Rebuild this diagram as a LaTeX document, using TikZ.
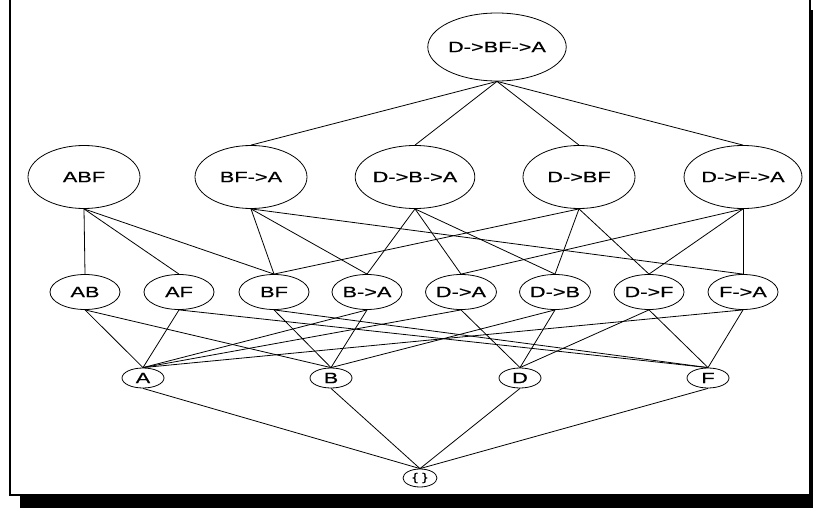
\documentclass[tikz,border=0pt]{standalone}
\usepackage{fontspec}
\newfontfamily\latfont[FakeStretch=1.45,FakeBold=0.6]{Liberation Sans}
\usetikzlibrary{shapes.geometric}

\begin{document}
\begin{tikzpicture}[
    x=1pt, y=-1pt,
    set/.style={
        ellipse, draw, line width=0.8pt, inner sep=0pt,
        font=\latfont\fontsize{15}{17}\selectfont
    },
    big/.style={set, minimum width=138pt, minimum height=68pt},
    mid/.style={set, minimum width=112pt, minimum height=63pt},
    small/.style={set, minimum width=70pt, minimum height=35pt},
    atom/.style={set, minimum width=42pt, minimum height=20pt},
    empty/.style={set, minimum width=34pt, minimum height=18pt},
    link/.style={line width=0.8pt}
]
    \useasboundingbox (0,0) rectangle (813,508);

    % Frame with shadow
    \fill[black] (20,10) rectangle (825,520);
    \draw[fill=white, line width=1.6pt] (10,-5) rectangle (810,495);

    % Top
    \node[big] (dbfa) at (497,47) {D->BF->A};

    % Second row
    \node[mid] (abf) at (84,177) {ABF};
    \node[mid] (bfa) at (251,177) {BF->A};
    \node[mid] (dba) at (415,177) {D->B->A};
    \node[mid] (dbf) at (579,177) {D->BF};
    \node[mid] (dfa) at (743,177) {D->F->A};

    % Third row
    \node[small] (ab) at (85,292) {AB};
    \node[small] (af) at (179,292) {AF};
    \node[small] (bf) at (274,292) {BF};
    \node[small] (ba) at (367,292) {B->A};
    \node[small] (da) at (461,292) {D->A};
    \node[small] (db) at (555,292) {D->B};
    \node[small] (df) at (649,292) {D->F};
    \node[small] (fa) at (743,292) {F->A};

    % Fourth row
    \node[atom] (a) at (143,378) {A};
    \node[atom] (b) at (331,378) {B};
    \node[atom] (d) at (520,378) {D};
    \node[atom] (f) at (708,378) {F};

    % Bottom
    \node[empty, font=\latfont\fontsize{11}{13}\selectfont] (none) at (420,478) {\{ \}};

    % Top to second row
    \draw[link] (dbfa.south) -- (bfa.north);
    \draw[link] (dbfa.south) -- (dba.north);
    \draw[link] (dbfa.south) -- (dbf.north);
    \draw[link] (dbfa.south) -- (dfa.north);

    % Second to third row
    \draw[link] (abf.south) -- (ab.north);
    \draw[link] (abf.south) -- (af.north);
    \draw[link] (abf.south) -- (bf.north);
    \draw[link] (bfa.south) -- (bf.north);
    \draw[link] (bfa.south) -- (ba.north);
    \draw[link] (bfa.south) -- (fa.north);
    \draw[link] (dba.south) -- (ba.north);
    \draw[link] (dba.south) -- (da.north);
    \draw[link] (dba.south) -- (db.north);
    \draw[link] (dbf.south) -- (bf.north);
    \draw[link] (dbf.south) -- (db.north);
    \draw[link] (dbf.south) -- (df.north);
    \draw[link] (dfa.south) -- (da.north);
    \draw[link] (dfa.south) -- (df.north);
    \draw[link] (dfa.south) -- (fa.north);

    % Third to fourth row
    \draw[link] (ab.south) -- (a.north);
    \draw[link] (ab.south) -- (b.north);
    \draw[link] (af.south) -- (a.north);
    \draw[link] (af.south) -- (f.north);
    \draw[link] (bf.south) -- (b.north);
    \draw[link] (bf.south) -- (f.north);
    \draw[link] (ba.south) -- (a.north);
    \draw[link] (ba.south) -- (b.north);
    \draw[link] (da.south) -- (a.north);
    \draw[link] (da.south) -- (d.north);
    \draw[link] (db.south) -- (b.north);
    \draw[link] (db.south) -- (d.north);
    \draw[link] (df.south) -- (d.north);
    \draw[link] (df.south) -- (f.north);
    \draw[link] (fa.south) -- (a.north);
    \draw[link] (fa.south) -- (f.north);

    % Fourth row to bottom
    \draw[link] (a.south) -- (none.north);
    \draw[link] (b.south) -- (none.north);
    \draw[link] (d.south) -- (none.north);
    \draw[link] (f.south) -- (none.north);

\end{tikzpicture}
\end{document}
